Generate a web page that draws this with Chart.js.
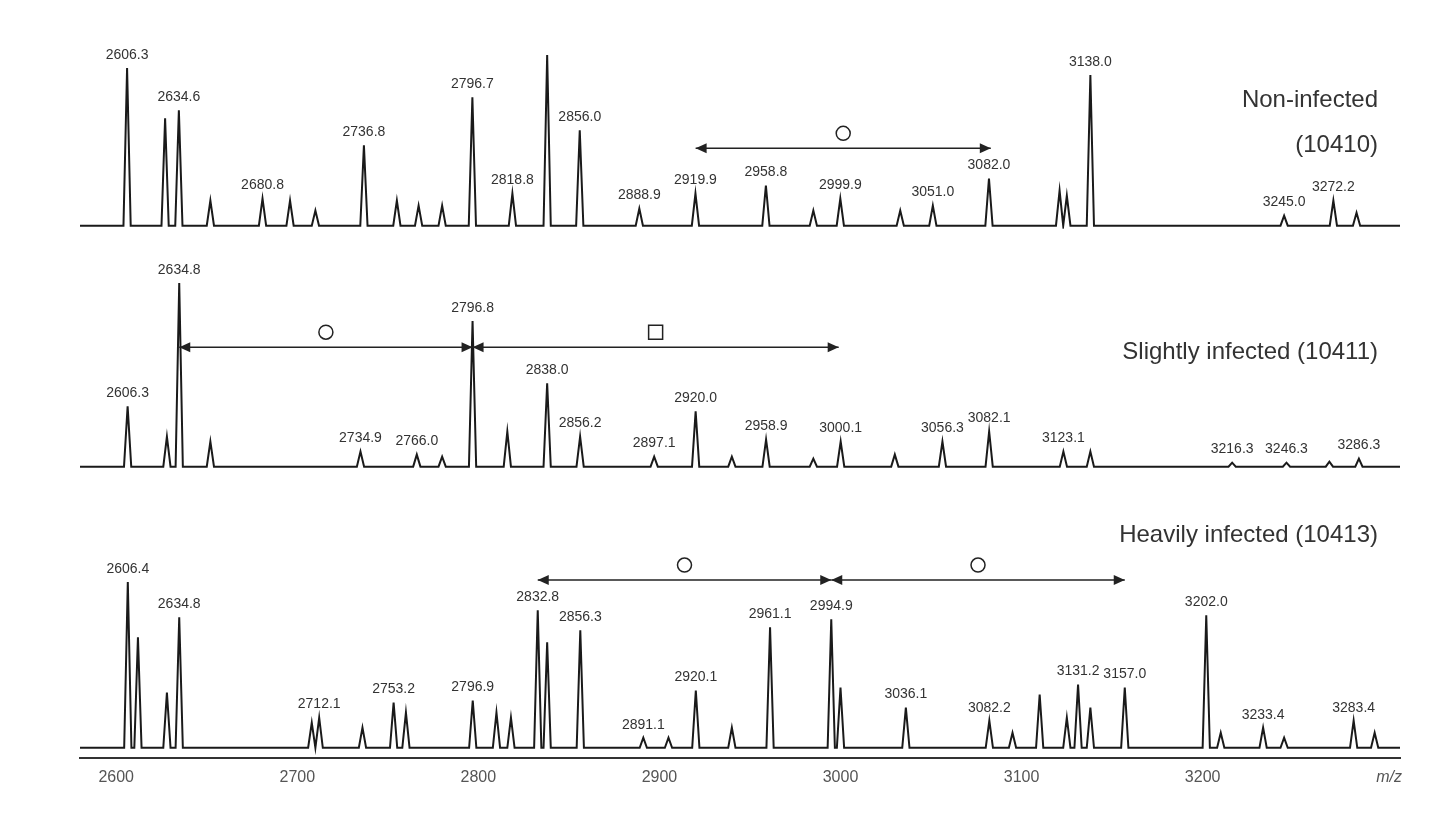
<!DOCTYPE html>
<html><head><meta charset="utf-8">
<script src="https://cdn.jsdelivr.net/npm/chart.js@4"></script>
<style>html,body{margin:0;background:#fff}#w{width:1440px;height:829px}</style>
</head><body><div id="w"><canvas id="c"></canvas></div>
<script>
// peaks: [m/z, intensity]
const peaks1 = [[2606,157],[2627,107],[2634.6,115],[2652,25],[2680.8,27],[2696,25],[2710,15],[2736.8,80],[2755,25],[2767,20],[2780,20],[2796.7,128],[2818.8,32],[2838,170],[2856,95],[2888.9,17],[2919.9,32],[2958.8,40],[2985,15],[2999.9,27],[3033,15],[3051,20],[3082,47],[3121,35],[3125,30],[3138,150],[3245,10],[3272.2,25],[3285,13]];
const peaks2 = [[2606.3,60],[2628,30],[2634.8,183],[2652,25],[2734.9,15],[2766,12],[2780,10],[2796.8,145],[2816,35],[2838,83],[2856.2,30],[2897.1,10],[2920,55],[2940,10],[2958.9,27],[2985,8],[3000.1,25],[3030,12],[3056.3,25],[3082.1,35],[3123.1,15],[3138,15],[3216.3,4],[3246.3,4],[3270,5],[3286.3,8]];
const peaks3 = [[2606.4,165],[2612,110],[2628,55],[2634.8,130],[2708,25],[2712.1,30],[2736,20],[2753.2,45],[2760,35],[2796.9,47],[2810,35],[2818,30],[2832.8,137],[2838,105],[2856.3,117],[2891.1,10],[2905,10],[2920.1,57],[2940,20],[2961.1,120],[2994.9,128],[3000,60],[3036.1,40],[3082.2,27],[3095,15],[3110,53],[3125,30],[3131.2,63],[3138,40],[3157,60],[3202,132],[3210,15],[3233.4,20],[3245,10],[3283.4,27],[3295,15]];
const labels1 = [[2606,"2606.3"],[2634.6,"2634.6"],[2680.8,"2680.8"],[2736.8,"2736.8"],[2796.7,"2796.7"],[2818.8,"2818.8"],[2856,"2856.0"],[2888.9,"2888.9"],[2919.9,"2919.9"],[2958.8,"2958.8"],[2999.9,"2999.9"],[3051,"3051.0"],[3082,"3082.0"],[3138,"3138.0"],[3245,"3245.0"],[3272.2,"3272.2"]];
const labels2 = [[2606.3,"2606.3"],[2634.8,"2634.8"],[2734.9,"2734.9"],[2766,"2766.0"],[2796.8,"2796.8"],[2838,"2838.0"],[2856.2,"2856.2"],[2897.1,"2897.1"],[2920,"2920.0"],[2958.9,"2958.9"],[3000.1,"3000.1"],[3056.3,"3056.3"],[3082.1,"3082.1"],[3123.1,"3123.1"],[3216.3,"3216.3"],[3246.3,"3246.3"],[3286.3,"3286.3"]];
const labels3 = [[2606.4,"2606.4"],[2634.8,"2634.8"],[2712.1,"2712.1"],[2753.2,"2753.2"],[2796.9,"2796.9"],[2832.8,"2832.8"],[2856.3,"2856.3"],[2891.1,"2891.1"],[2920.1,"2920.1"],[2961.1,"2961.1"],[2994.9,"2994.9"],[3036.1,"3036.1"],[3082.2,"3082.2"],[3131.2,"3131.2"],[3157,"3157.0"],[3202,"3202.0"],[3233.4,"3233.4"],[3283.4,"3283.4"]];
// arrows: [from, to, level, marker]
const arrows1 = [[2920,3083,77,"o"]];
const arrows2 = [[2634.8,2796.8,119,"o"],[2796.8,2999,119,"s"]];
const arrows3 = [[2832.8,2994.9,167,"o"],[2994.9,3157,167,"o"]];
const titles = [["Non-infected","(10410)"],["Slightly infected (10411)"],["Heavily infected (10413)"]];
const xTicks = [2600,2700,2800,2900,3000,3100,3200];

function spectrum(p){const out=[{x:2580,y:0}];p.slice().sort((a,b)=>a[0]-b[0]).forEach(([m,h])=>{out.push({x:m-2,y:0},{x:m,y:h},{x:m+2,y:0});});out.push({x:3309,y:0});return out;}
const panels=[{p:peaks1,l:labels1,a:arrows1,ax:'y1'},{p:peaks2,l:labels2,a:arrows2,ax:'y2'},{p:peaks3,l:labels3,a:arrows3,ax:'y3'}];
const ds=panels.map(o=>({data:spectrum(o.p),yAxisID:o.ax,borderColor:'#1a1a1a',borderWidth:2,pointRadius:0,tension:0,fill:false}));
const hid={ticks:{display:false},grid:{display:false},border:{display:false},stack:'s',position:'left'};
const ann={id:'ann',afterDatasetsDraw(ch){const c=ch.ctx,x=ch.scales.x;c.save();
 panels.forEach((o,i)=>{const y=ch.scales[o.ax];
  c.fillStyle='#333';c.font='14px Liberation Sans, Arial';c.textAlign='center';c.textBaseline='bottom';
  o.l.forEach(([m,t])=>{const h=o.p.find(q=>q[0]===m)[1];c.fillText(t,x.getPixelForValue(m),y.getPixelForValue(h)-6);});
  c.strokeStyle='#222';c.lineWidth=1.5;
  o.a.forEach(([a,b,lv,mk])=>{const xa=x.getPixelForValue(a),xb=x.getPixelForValue(b),yy=y.getPixelForValue(lv);
   c.beginPath();c.moveTo(xa,yy);c.lineTo(xb,yy);c.stroke();
   c.fillStyle='#222';[[xa,1],[xb,-1]].forEach(([px,d])=>{c.beginPath();c.moveTo(px,yy);c.lineTo(px+d*11,yy-5);c.lineTo(px+d*11,yy+5);c.closePath();c.fill();});
   const mx=(xa+xb)/2,my=yy-15;c.beginPath();if(mk==='o')c.arc(mx,my,7,0,Math.PI*2);else c.rect(mx-7,my-7,14,14);c.stroke();});
 });
 c.fillStyle='#333';c.font='24px Liberation Sans, Arial';c.textAlign='right';c.textBaseline='middle';
 const ys=[[100,145],[352],[535]];titles.forEach((t,i)=>t.forEach((s,j)=>c.fillText(s,1378,ys[i][j])));
 c.font='italic 16px Liberation Sans, Arial';c.fillStyle='#555';c.fillText('m/z',1402,778);
 c.restore();}};
new Chart(document.getElementById('c'),{type:'line',data:{datasets:ds},plugins:[ann],
 options:{responsive:true,maintainAspectRatio:false,animation:false,layout:{padding:{left:72,right:40,top:55,bottom:38}},
 plugins:{legend:{display:false},tooltip:{enabled:false}},
 scales:{x:{type:'linear',min:2580,max:3309,afterBuildTicks:s=>{s.ticks=xTicks.map(v=>({value:v}));},
   ticks:{color:'#555',font:{size:16,family:'Liberation Sans, Arial'},padding:4,callback:v=>String(v)},grid:{display:false,drawOnChartArea:false,drawTicks:true,tickLength:6,color:'#333'},border:{color:'#333',width:2}},
  y3:{...hid,min:-10,max:275,stackWeight:285},
  y2:{...hid,min:-5,max:237,stackWeight:242},
  y1:{...hid,min:-3,max:170,stackWeight:173}}}});
</script></body></html>
